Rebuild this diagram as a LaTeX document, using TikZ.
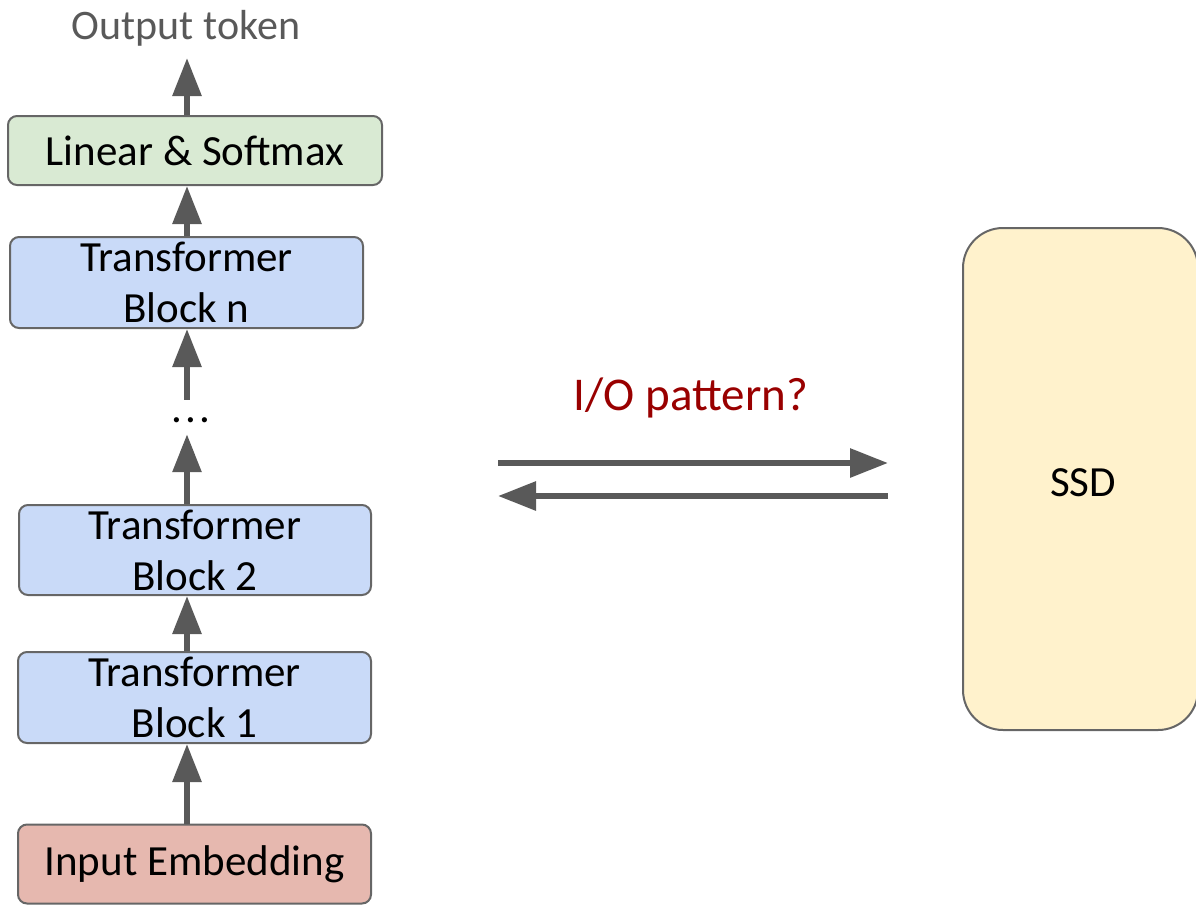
\documentclass[tikz,border=0pt]{standalone}
\usepackage{fontspec}
\setmainfont{Carlito}
\usetikzlibrary{arrows.meta}
\definecolor{arrowgray}{HTML}{595959}
\definecolor{edgegray}{HTML}{666666}
\definecolor{greenfill}{HTML}{D9EAD3}
\definecolor{bluefill}{HTML}{C9DAF8}
\definecolor{redfill}{HTML}{E6B8AF}
\definecolor{yellowfill}{HTML}{FFF2CC}
\definecolor{darkred}{HTML}{990000}
\tikzset{
  blockbox/.style={draw=edgegray, line width=2pt, rounded corners=9pt,
    inner sep=0pt, align=center, font=\fontsize{43}{51}\selectfont},
  flow/.style={draw=arrowgray, line width=6pt,
    -{Triangle[length=38pt,width=28pt]}, arrowgray},
}
\begin{document}
\begin{tikzpicture}[x=1pt, y=-1pt]
\useasboundingbox (0,0) rectangle (1196,905);
\clip (0,0) rectangle (1196,905);

% column of the model stack
\coordinate (col) at (187,0);
\coordinate (outtip) at (187,58);

\node[font=\fontsize{42}{48}\selectfont, text=arrowgray] (out) at (186,28) {Output token};

\node[blockbox, fill=greenfill, minimum width=374pt, minimum height=69pt]
  (lin) at (195,150.5) {Linear \& Softmax};
\node[blockbox, fill=bluefill, minimum width=353pt, minimum height=91pt]
  (bn) at (186.5,282.5) {Transformer\\Block n};
\node[inner sep=0pt, minimum height=34pt, font=\fontsize{43}{48}\selectfont]
  (dots) at (191,417) {\raisebox{-5pt}[0pt][0pt]{.\kern3pt.\kern3pt.}};
\node[blockbox, fill=bluefill, minimum width=352pt, minimum height=90pt]
  (b2) at (195,550) {Transformer\\Block 2};
\node[blockbox, fill=bluefill, minimum width=353pt, minimum height=91pt]
  (b1) at (194.5,697.5) {Transformer\\Block 1};
\node[blockbox, fill=redfill, minimum width=353pt, minimum height=79pt]
  (emb) at (194.5,864) {Input Embedding};

% storage device
\node[draw=edgegray, line width=2pt, rounded corners=40pt, fill=yellowfill,
  minimum width=235pt, minimum height=502pt, inner sep=0pt] (ssd) at (1080.5,479) {};
\node[font=\fontsize{43}{50}\selectfont] (ssdlabel) at (1083,483) {SSD};

% forward pass
\draw[flow] (emb.north -| col) -- (b1.south -| col);
\draw[flow] (b1.north -| col) -- (b2.south -| col);
\draw[flow] (b2.north -| col) -- (dots.south -| col);
\draw[flow] (dots.north -| col) -- (bn.south -| col);
\draw[flow] (bn.north -| col) -- (lin.south -| col);
\draw[flow] (lin.north -| col) -- (outtip);

% traffic to and from storage
\node[font=\fontsize{47}{56}\selectfont, text=darkred] (io) at (691,398) {I/O pattern?};
\coordinate (wa) at (498,463);
\coordinate (wb) at (888,463);
\coordinate (ra) at (888,496);
\coordinate (rb) at (498,496);
\draw[flow] (wa) -- (wb);
\draw[flow] (ra) -- (rb);
\end{tikzpicture}
\end{document}
